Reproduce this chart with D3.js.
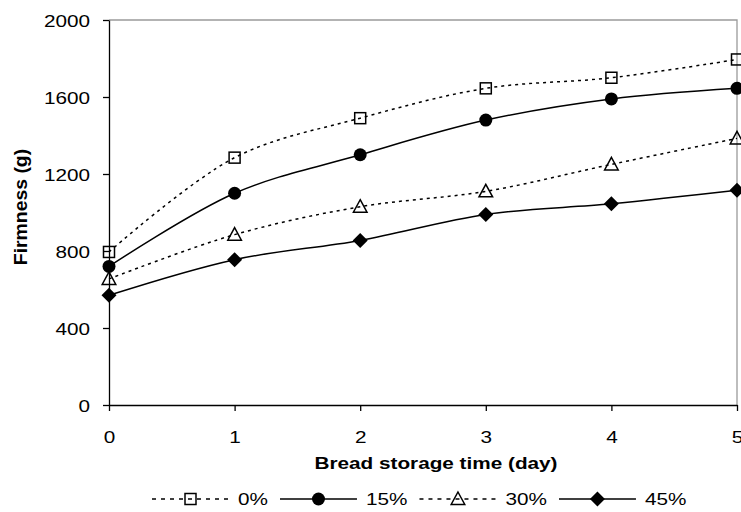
<!DOCTYPE html>
<html>
<head>
<meta charset="utf-8">
<script src="https://cdn.jsdelivr.net/npm/d3@7"></script>
<style>
  html, body { margin: 0; padding: 0; background: #fff; }
  svg { display: block; font-family: "Liberation Sans", Arial, sans-serif; }
</style>
</head>
<body>
<div id="canvas"></div>
<script>
'use strict';

/* Values. */
const days = [0, 1, 2, 3, 4, 5];
const seriesNames = ['0%', '15%', '30%', '45%'];
const firmness0 = [795, 1285, 1490, 1645, 1700, 1795];
const firmness15 = [720, 1100, 1300, 1480, 1590, 1645];
const firmness30 = [655, 885, 1030, 1110, 1250, 1385];
const firmness45 = [570, 755, 855, 990, 1045, 1115];
const yTicks = [0, 400, 800, 1200, 1600, 2000];
const xTitle = 'Bread storage time (day)';
const yTitle = 'Firmness (g)';

const series = [
  {name: seriesNames[0], values: firmness0, marker: 'square', dashed: true},
  {name: seriesNames[1], values: firmness15, marker: 'circle', dashed: false},
  {name: seriesNames[2], values: firmness30, marker: 'triangle', dashed: true},
  {name: seriesNames[3], values: firmness45, marker: 'diamond', dashed: false},
];

const canvasWidth = 741;
const canvasHeight = 512;
/* The source picture is stretched sideways, so horizontal text is too. */
const stretch = 1.22;
const margins = {top: 20, right: 4, bottom: 107, left: 109};
const width = canvasWidth - margins.left - margins.right;
const height = canvasHeight - margins.top - margins.bottom;

const svg = d3.select('#canvas').append('svg')
    .attr('width', canvasWidth)
    .attr('height', canvasHeight);

const chart = svg.append('g')
    .attr('transform', `translate(${margins.left},${margins.top})`);

const x = d3.scaleLinear().domain([0, 5]).range([0, width]);
const y = d3.scaleLinear().domain([0, 2000]).range([height, 0]);

/* Plot area border: grey on top and right, axes drawn on the other sides. */
chart.append('path')
    .attr('d', `M0,0H${width}V${height}`)
    .attr('fill', 'none')
    .attr('stroke', '#9a9a9a')
    .attr('stroke-width', 1.3);

const yAxis = chart.append('g')
    .call(d3.axisLeft(y).tickValues(yTicks).tickSize(6).tickSizeOuter(0)
        .tickFormat(d3.format('d')));
const xAxis = chart.append('g')
    .attr('transform', `translate(0,${height})`)
    .call(d3.axisBottom(x).tickValues(days).tickSize(6).tickSizeOuter(0)
        .tickFormat(d3.format('d')));

[yAxis, xAxis].forEach((axis) => {
  axis.select('.domain').attr('stroke', '#000').attr('stroke-width', 1.3);
  axis.selectAll('.tick line').attr('stroke', '#000').attr('stroke-width', 1.3);
  axis.selectAll('text')
      .attr('fill', '#000')
      .attr('font-size', 17)
      .attr('font-family', '"Liberation Sans", Arial, sans-serif');
});
yAxis.selectAll('text')
    .attr('x', -19 / stretch)
    .attr('dy', '0.36em')
    .attr('transform', `scale(${stretch},1)`);
xAxis.selectAll('text')
    .attr('y', 26)
    .attr('dy', '0.71em')
    .attr('transform', `scale(${stretch},1)`);

/* Axis titles */
svg.append('g')
    .attr('transform', `translate(436,469) scale(${stretch},1)`)
    .append('text')
    .attr('text-anchor', 'middle')
    .attr('font-size', 17)
    .attr('font-weight', 'bold')
    .text(xTitle);

svg.append('g')
    .attr('transform', 'translate(27,207) rotate(-90) scale(1.14,1.05)')
    .append('text')
    .attr('text-anchor', 'middle')
    .attr('font-size', 17)
    .attr('font-weight', 'bold')
    .text(yTitle);

/**
 * Appends a marker of the given kind centred on (cx, cy).
 * @param {Object} parent
 * @param {string} kind
 * @param {number} cx
 * @param {number} cy
 */
function drawMarker(parent, kind, cx, cy) {
  const g = parent.append('g').attr('transform', `translate(${cx},${cy})`);
  if (kind === 'square') {
    g.append('rect').attr('x', -5.5).attr('y', -5.5)
        .attr('width', 11).attr('height', 11)
        .attr('fill', 'none').attr('stroke', '#000').attr('stroke-width', 1.5);
  } else if (kind === 'circle') {
    g.append('circle').attr('r', 6.5).attr('fill', '#000');
  } else if (kind === 'triangle') {
    g.append('path').attr('d', 'M0,-7L6.8,5.5L-6.8,5.5Z')
        .attr('fill', 'none').attr('stroke', '#000').attr('stroke-width', 1.5);
  } else {
    g.append('path').attr('d', 'M0,-7.5L7.5,0L0,7.5L-7.5,0Z').attr('fill', '#000');
  }
}

const line = d3.line()
    .x((d, i) => x(days[i]))
    .y((d) => y(d))
    .curve(d3.curveCatmullRom.alpha(0.5));

const plot = chart.append('g');
series.forEach((s) => {
  plot.append('path')
      .datum(s.values)
      .attr('d', line)
      .attr('fill', 'none')
      .attr('stroke', '#000')
      .attr('stroke-width', 1.5)
      .attr('stroke-dasharray', s.dashed ? '3,4' : null);
  s.values.forEach((v, i) => drawMarker(plot, s.marker, x(days[i]), y(v)));
});

/* Legend: one row below the axis title. */
const legend = svg.append('g').attr('transform', 'translate(0,499)');
let cursor = 152;
series.forEach((s) => {
  const item = legend.append('g').attr('transform', `translate(${cursor},0)`);
  item.append('line')
      .attr('x1', 0).attr('x2', 77)
      .attr('stroke', '#000')
      .attr('stroke-width', 1.5)
      .attr('stroke-dasharray', s.dashed ? '4,5' : null);
  drawMarker(item, s.marker, 38.5, 0);
  const label = item.append('g')
      .attr('transform', `translate(86,0) scale(${stretch},1)`)
      .append('text')
      .attr('dy', '0.36em')
      .attr('font-size', 17)
      .text(s.name);
  cursor += 86 + label.node().getComputedTextLength() * stretch + 12;
});
</script>
</body>
</html>
